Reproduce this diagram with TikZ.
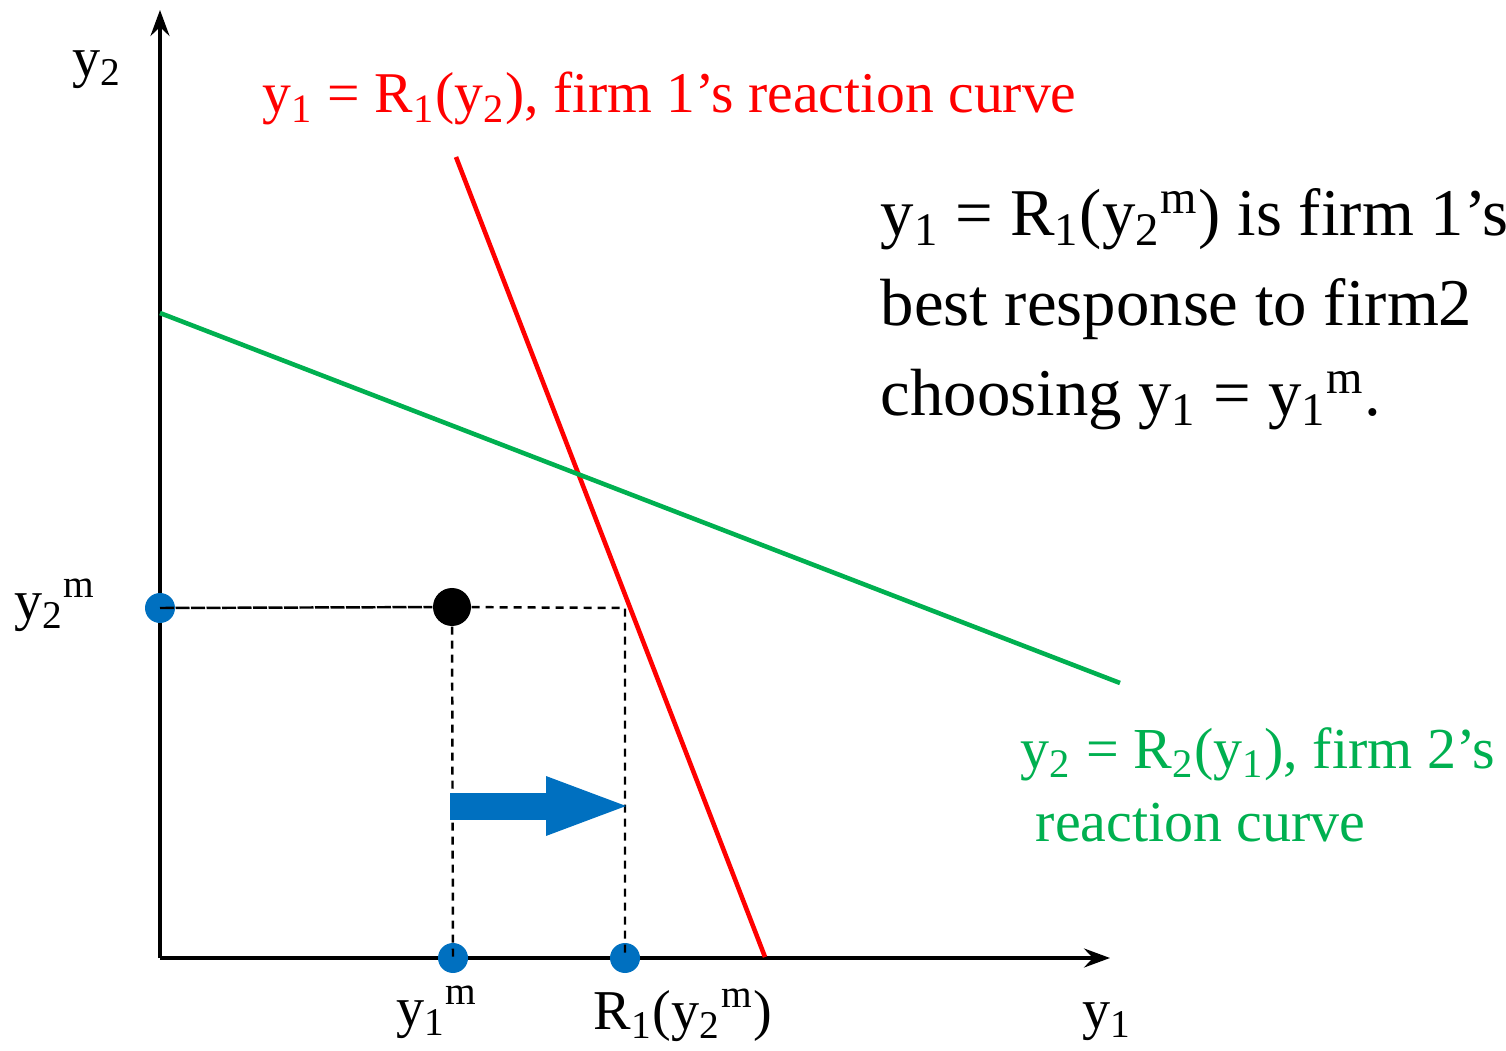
\documentclass[tikz,border=0pt]{standalone}
\usepackage{fontspec}
\setmainfont{Liberation Serif}
\usetikzlibrary{arrows.meta,calc}

\definecolor{dotblue}{RGB}{0,112,192}
\definecolor{curvegreen}{RGB}{0,176,80}

\begin{document}
\begin{tikzpicture}[
  axis/.style={-{Stealth[length=2.6mm, width=1.9mm, inset=0.9mm]}, line width=1.1pt},
  reacone/.style={draw=red, line width=1.3pt},
  reactwo/.style={draw=curvegreen, line width=1.3pt},
  guide/.style={dash pattern=on 0.8mm off 0.6mm, line width=0.7pt},
  tick/.style={circle, fill=dotblue, inner sep=0pt, minimum size=3.0mm},
  mono/.style={circle, fill=black, inner sep=0pt, minimum size=3.8mm},
  lab/.style={font=\fontsize{16}{19}\selectfont, inner sep=0pt},
  note/.style={font=\fontsize{19}{25.6}\selectfont, inner sep=0pt, align=left, anchor=north west}
]
\path[use as bounding box] (0,0) rectangle (15.06,10.50);

% axes
\coordinate (O) at (1.60,0.92);
\coordinate (ytop) at (1.60,10.40);
\coordinate (xend) at (11.10,0.92);
\draw[axis] (O) -- (ytop);
\draw[axis] (O) -- (xend);

% reaction curves
\coordinate (r1a) at (4.56,8.93);
\coordinate (r1b) at (7.65,0.93);
\coordinate (r2a) at (1.60,7.37);
\coordinate (r2b) at (11.20,3.67);
\draw[reacone] (r1a) -- (r1b);
\draw[reactwo] (r2a) -- (r2b);

% monopoly point and its projections
\node[tick] (y2m) at (1.60,4.42) {};
\node[mono] (mono) at (4.52,4.43) {};
\node[tick] (y1m) at (4.53,0.92) {};
\node[tick] (best) at (6.25,0.92) {};
\coordinate (corner) at (best |- y2m);

\draw[guide, dash pattern=on 1.4mm off 0.15mm] (y2m.center) -- (mono);
\draw[guide] (mono) -- (corner) -- (best.center);
\draw[guide] (mono) -- (y1m.center);

% shift to the best response
\coordinate (shove) at (4.50,2.44);
\coordinate (shovetip) at ($(best |- shove)+(0.08,0)$);
\draw[dotblue, line width=2.7mm, -{Triangle[length=8.7mm, width=5.2mm]}] (shove) -- (shovetip);

% labels
\node[lab] (ytwo) at (0.97,9.80) {y\textsubscript{2}};
\node[lab] (ytwom) at (0.55,4.45) {y\textsubscript{2}\textsuperscript{m}};
\node[lab] (yonem) at (4.37,0.38) {y\textsubscript{1}\textsuperscript{m}};
\node[lab] (bestlab) at (6.83,0.35) {R\textsubscript{1}(y\textsubscript{2}\textsuperscript{m})};
\node[lab] (yone) at (11.07,0.28) {y\textsubscript{1}};

\node[lab, text=red, font=\fontsize{16.4}{19.5}\selectfont, anchor=base west] (r1lab) at (2.62,9.37)
  {y\textsubscript{1} = R\textsubscript{1}(y\textsubscript{2}), firm 1's reaction curve};
\node[note] (remark) at (8.80,8.62)
  {y\textsubscript{1} = R\textsubscript{1}(y\textsubscript{2}\textsuperscript{m}) is firm 1's\\
   best response to firm2\\
   choosing y\textsubscript{1} = y\textsubscript{1}\textsuperscript{m}.};
\node[note, text=curvegreen, font=\fontsize{16.5}{20.8}\selectfont] (r2lab) at (10.20,3.23)
  {y\textsubscript{2} = R\textsubscript{2}(y\textsubscript{1}), firm 2's\\
   \hspace*{1.5mm}reaction curve};
\end{tikzpicture}
\end{document}
